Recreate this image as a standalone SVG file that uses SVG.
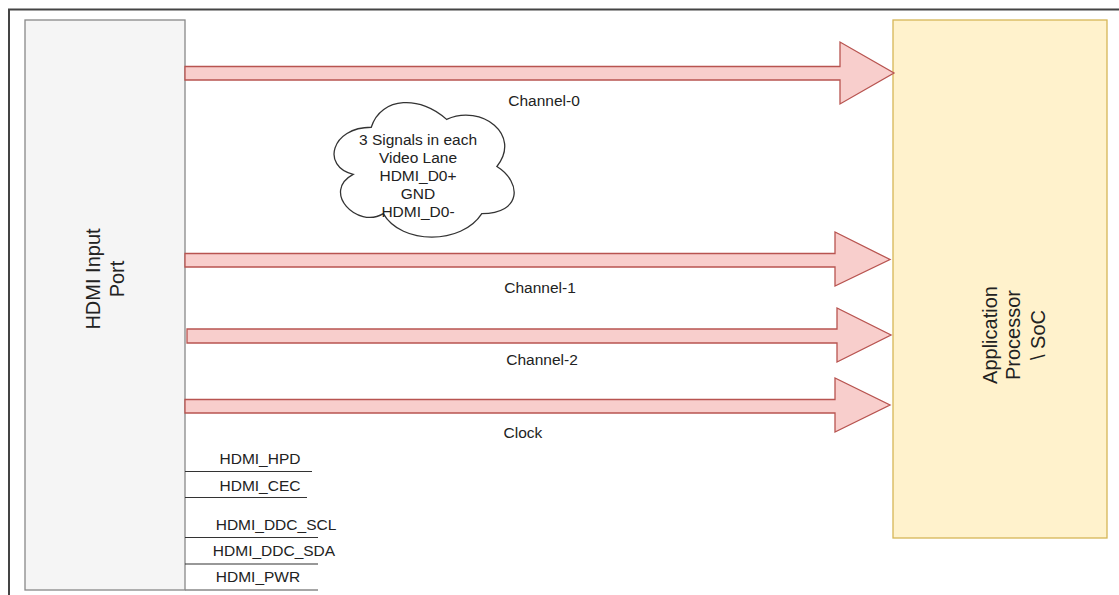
<svg xmlns="http://www.w3.org/2000/svg" width="1119" height="595" viewBox="0 0 1119 595">
<style>
.t{font-family:"Liberation Sans",Arial,sans-serif;fill:#222;}
.lbl{font-size:15.5px;text-anchor:middle;}
.big{font-size:20px;text-anchor:middle;}
.arrow{fill:#f8cecc;stroke:#b85450;stroke-width:1.3;stroke-linejoin:miter;}
.sig{stroke:#333;stroke-width:1.2;fill:none;}
</style>
<rect x="0" y="0" width="1119" height="595" fill="#ffffff"/>
<g id="frame">
<path d="M9 595 V9.5 H1119" fill="none" stroke="#444" stroke-width="2"/>
</g>
<g id="hdmi-port">
<rect x="25" y="20" width="160" height="570" fill="#f5f5f5" stroke="#888" stroke-width="1.3"/>
<text class="t big" transform="translate(100,279) rotate(-90)">HDMI Input</text>
<text class="t big" transform="translate(124,279) rotate(-90)">Port</text>
</g>
<g id="app-processor">
<rect x="893" y="20" width="214" height="518" fill="#fff2cc" stroke="#d6b656" stroke-width="1.3"/>
<text class="t big" transform="translate(997,335) rotate(-90)">Application</text>
<text class="t big" transform="translate(1020,335) rotate(-90)">Processor</text>
<text class="t big" transform="translate(1045,335) rotate(-90)">\ SoC</text>
</g>
<g id="connectors">
<path class="arrow" d="M185 66.5 H840 V42 L894 73 L840 104 V80 H185 Z"/>
<path class="arrow" d="M185 253.5 H835 V232 L890 259.5 L835 286 V267 H185 Z"/>
<path class="arrow" d="M187 329 H837 V308 L891 335 L837 362 V343 H187 Z"/>
<path class="arrow" d="M185 399.5 H835 V378 L890 405 L835 432 V413 H185 Z"/>
<line class="sig" x1="185" y1="471.5" x2="312" y2="471.5"/>
<line class="sig" x1="185" y1="497.5" x2="307" y2="497.5"/>
<line class="sig" x1="185" y1="537.5" x2="318" y2="537.5"/>
<line class="sig" x1="185" y1="564" x2="318" y2="564"/>
<line x1="185" y1="590" x2="318" y2="590" stroke="#888" stroke-width="1.3"/>
</g>
<g id="channel-labels">
<text class="t lbl" x="544" y="106">Channel-0</text>
<text class="t lbl" x="540" y="293">Channel-1</text>
<text class="t lbl" x="542" y="365">Channel-2</text>
<text class="t lbl" x="523" y="438">Clock</text>
</g>
<g id="signal-labels">
<text class="t lbl" x="260" y="464">HDMI_HPD</text>
<text class="t lbl" x="260" y="491">HDMI_CEC</text>
<text class="t lbl" x="276" y="530">HDMI_DDC_SCL</text>
<text class="t lbl" x="274" y="556">HDMI_DDC_SDA</text>
<text class="t lbl" x="258" y="582">HDMI_PWR</text>
</g>
<g id="cloud">
<path d="M371.25 127.25 C331.05 127.25 321 166.5 353.16 174.35 C321 191.62 357.18 229.3 383.31 213.6 C401.4 245 461.7 245 481.8 213.6 C522 213.6 522 182.2 496.9 166.5 C522 135.1 481.8 103.7 446.6 119.4 C421.5 95.85 381.3 95.85 371.25 127.25 Z" fill="#ffffff" stroke="#333" stroke-width="1.3"/>
<text class="t lbl" x="418" y="145">3 Signals in each</text>
<text class="t lbl" x="418" y="163">Video Lane</text>
<text class="t lbl" x="418" y="181">HDMI_D0+</text>
<text class="t lbl" x="418" y="199">GND</text>
<text class="t lbl" x="418" y="217">HDMI_D0-</text>
</g>
</svg>
